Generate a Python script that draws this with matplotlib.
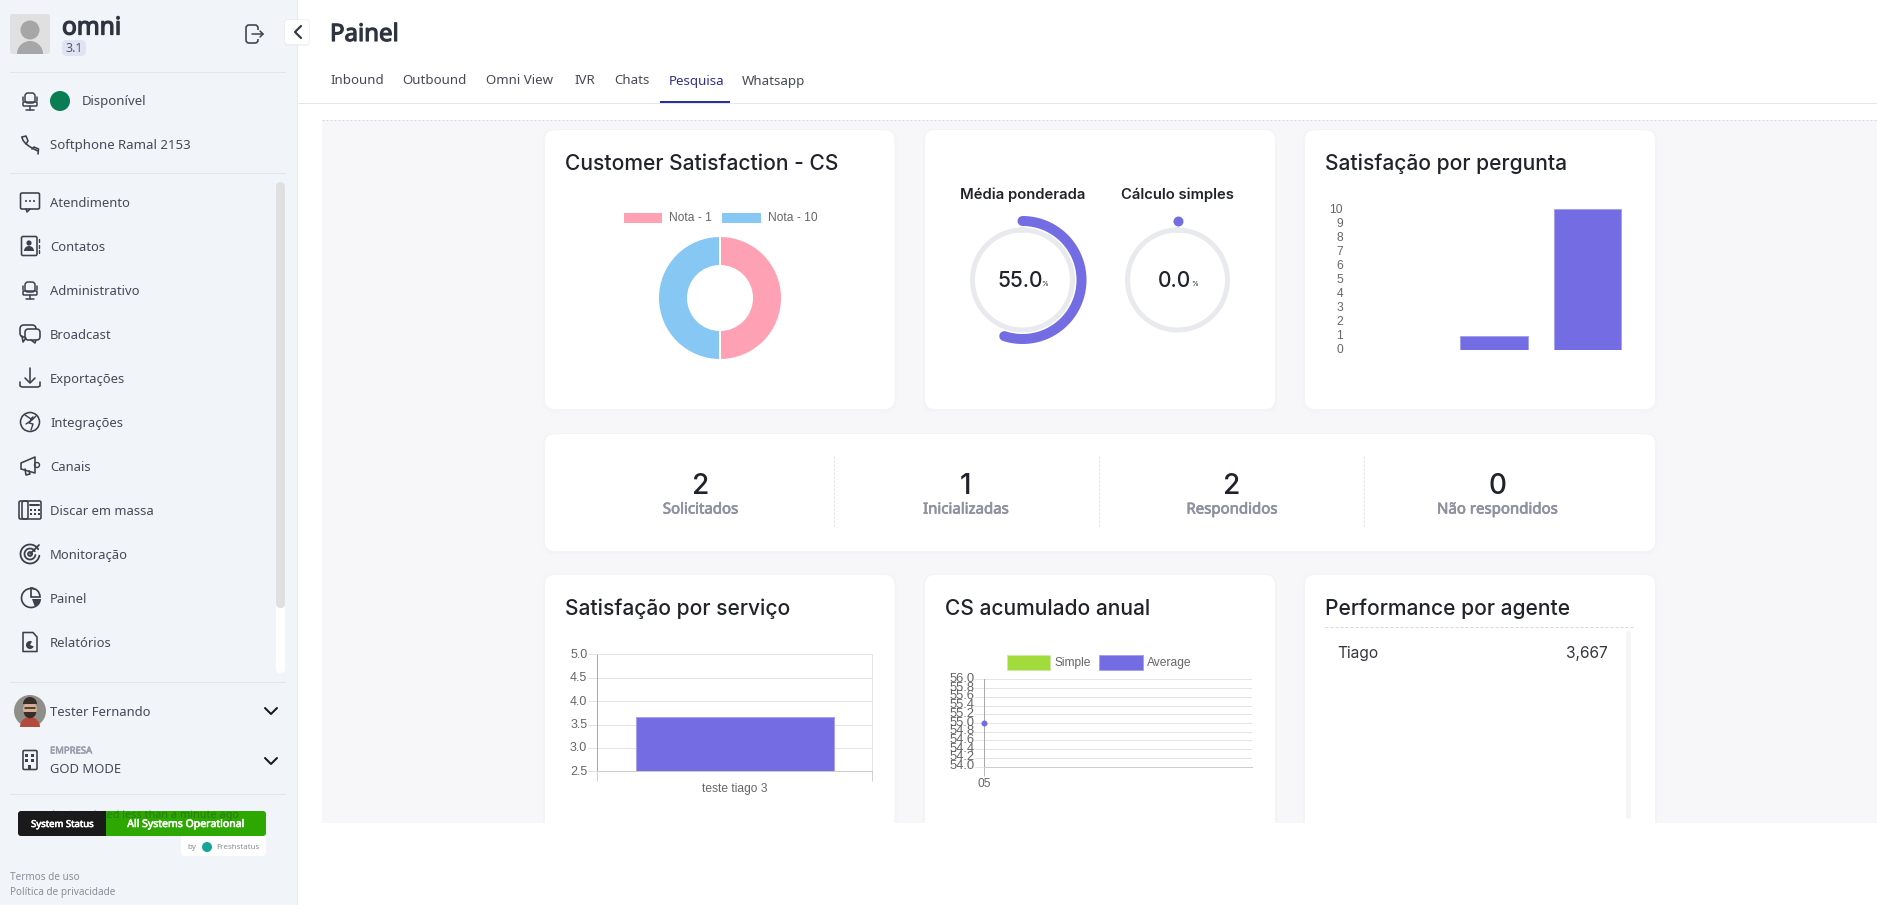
import numpy as np
import matplotlib
matplotlib.use('Agg')
import matplotlib.pyplot as plt
import matplotlib.patheffects as pe
from matplotlib.patches import FancyBboxPatch, Circle, Rectangle, Wedge, Polygon
from matplotlib.transforms import ScaledTranslation

W, H = 1877, 905
PURPLE = '#746ce3'
PURPLE_EDGE = '#a5a0f0'
INK = '#20232b'
ICON = '#3b404c'
TICK = '#666666'
TITLE_FONT = 'Inter'
BODY_FONT = 'Noto Sans'
CHART_FONT = 'Liberation Sans'

# chart values
donut_labels = ['Nota - 1', 'Nota - 10']
donut_values = [1, 1]
donut_colors = ['#ffa1b5', '#86c7f3']

gauge_labels = ['Média ponderada', 'Cálculo simples']
gauge_values = [55.0, 0.0]

pergunta_values = [0, 1, 10]
pergunta_ticks = list(range(0, 11))

servico_labels = ['teste tiago 3']
servico_values = [3.667]
servico_ticks = [2.5, 3.0, 3.5, 4.0, 4.5, 5.0]

anual_labels = ['05']
anual_average = [55.0]
anual_ticks = [54.0, 54.2, 54.4, 54.6, 54.8, 55.0, 55.2, 55.4, 55.6, 55.8, 56.0]
anual_legend = ['Simple', 'Average']
anual_colors = ['#a2db3c', PURPLE]

kpi_values = ['2', '1', '2', '0']
kpi_labels = ['Solicitados', 'Inicializadas', 'Respondidos', 'Não respondidos']

agent_names = ['Tiago']
agent_scores = ['3,667']

tabs = ['Inbound', 'Outbound', 'Omni View', 'IVR', 'Chats', 'Pesquisa', 'Whatsapp']
tab_x = [330, 402.5, 486, 574, 614, 669, 742]
menu_items = ['Atendimento', 'Contatos', 'Administrativo', 'Broadcast', 'Exportações',
              'Integrações', 'Canais', 'Discar em massa', 'Monitoração', 'Painel', 'Relatórios']
menu_y = [202, 246, 290, 334, 378, 422, 466, 510, 554, 598, 642]

fig = plt.figure(figsize=(W / 100, H / 100), dpi=100, facecolor='white')
ui = fig.add_axes([0, 0, 1, 1])
ui.set_xlim(0, W)
ui.set_ylim(H, 0)
ui.axis('off')


def px(v):
    return v * 0.72


def rrect(x0, y0, x1, y1, r, fc, ec='none', lw=0, z=2, alpha=None):
    p = FancyBboxPatch((x0 + r, y0 + r), x1 - x0 - 2 * r, y1 - y0 - 2 * r,
                       boxstyle=f'round,pad={r}', fc=fc, ec=ec, lw=px(lw), zorder=z, alpha=alpha)
    ui.add_patch(p)
    return p


def txt(x, y, s, size, color=INK, font=BODY_FONT, weight='normal', ha='left', va='center', z=6, alpha=None, heavy=0):
    t = ui.text(x, y, s, fontsize=px(size), color=color, family=font, weight=weight,
                ha=ha, va=va, zorder=z, alpha=alpha)
    # Noto Sans has no bold here, thicken it with a stroke
    if heavy:
        t.set_path_effects([pe.withStroke(linewidth=px(heavy), foreground=color)])
    return t


def line(xs, ys, color=ICON, lw=1.5, z=5, ls='-', cap='round'):
    ui.plot(xs, ys, color=color, lw=px(lw), zorder=z, ls=ls, solid_capstyle=cap, solid_joinstyle='round')


def axpx(x0, y0, x1, y1, **kw):
    ax = fig.add_axes([x0 / W, 1 - y1 / H, (x1 - x0) / W, (y1 - y0) / H], **kw)
    ax.patch.set_alpha(0)
    ax.set_zorder(3)
    return ax


def lift_labels(labels, n):
    # move tick labels up by n pixels
    for lb in labels:
        lb.set_transform(lb.get_transform() + ScaledTranslation(0, n / 100, fig.dpi_scale_trans))


def card(x0, y0, x1, y1):
    rrect(x0 - 2, y0 - 1, x1 + 2, y1 + 3, 11, '#f4f4f6', z=1.5)
    rrect(x0, y0, x1, y1, 10, 'white', z=2)


# --- icons -----------------------------------------------------------------
def ic_chair(cx, cy):
    rrect(cx - 5, cy - 8, cx + 5, cy + 2, 3, 'none', ICON, 1.5, z=5)
    rrect(cx - 7, cy + 1, cx + 7, cy + 5, 1, 'none', ICON, 1.5, z=5)
    line([cx - 7, cx - 7], [cy - 4, cy], lw=1.5)
    line([cx + 7, cx + 7], [cy - 4, cy], lw=1.5)
    line([cx, cx], [cy + 5, cy + 9])
    line([cx - 4, cx + 4], [cy + 9, cy + 9])


def ic_phone(cx, cy):
    t = np.linspace(0, 1, 20)
    line(cx - 8 + 4 * t + 12 * t ** 2, cy - 8 + 3 * t ** .5 + 11 * t, lw=1.6)
    line([cx - 8, cx - 4, cx - 2, cx - 4], [cy - 8, cy - 9, cy - 4, cy - 1], lw=1.6)
    line([cx + 8, cx + 8.5, cx + 4, cx + 2], [cy + 9, cy + 4, cy + 2, cy + 4], lw=1.6)


def ic_chat(cx, cy):
    rrect(cx - 9.5, cy - 9, cx + 9.5, cy + 7, 1.5, 'none', ICON, 1.6, z=5)
    line([cx - 4, cx - 3, cx], [cy + 7, cy + 10, cy + 7], lw=1.6)
    for dx in (-4, 0, 4):
        ui.add_patch(Circle((cx + dx, cy - 1), 1, fc=ICON, zorder=5))


def ic_contact(cx, cy):
    rrect(cx - 8.5, cy - 9.5, cx + 7, cy + 9.5, 1.5, 'none', ICON, 1.6, z=5)
    ui.add_patch(Circle((cx - 1, cy - 3), 2.6, fc=ICON, zorder=5))
    ui.add_patch(Wedge((cx - 1, cy + 5), 5, 180, 360, fc=ICON, zorder=5))
    line([cx + 9.5, cx + 9.5], [cy - 7, cy - 4], lw=1.4)
    line([cx + 9.5, cx + 9.5], [cy - 1, cy + 2], lw=1.4)
    line([cx + 9.5, cx + 9.5], [cy + 4, cy + 7], lw=1.4)


def ic_broadcast(cx, cy):
    rrect(cx - 10, cy - 9, cx + 6, cy + 3, 4, 'none', ICON, 1.6, z=5)
    rrect(cx - 5, cy - 5, cx + 10, cy + 6, 3.5, '#f1f4f9', ICON, 1.6, z=5)
    line([cx - 8, cx - 7, cx - 4], [cy + 2, cy + 8, cy + 4], lw=1.6)
    line([cx + 1, cx + 5, cx + 6], [cy + 6, cy + 9, cy + 6], lw=1.6)


def ic_download(cx, cy):
    line([cx, cx], [cy - 10, cy + 4], lw=1.6)
    line([cx - 5, cx, cx + 5], [cy, cy + 5, cy], lw=1.6)
    line([cx - 10, cx - 10, cx - 8, cx + 8, cx + 10, cx + 10], [cy + 4, cy + 8, cy + 9, cy + 9, cy + 8, cy + 4], lw=1.6)


def ic_globe(cx, cy):
    ui.add_patch(Circle((cx, cy), 9.5, fc='none', ec=ICON, lw=px(1.6), zorder=5))
    line([cx - 5, cx + 1, cx + 3, cx - 1, cx + 3, cx + 1], [cy - 7, cy - 3, cy - 5, cy + 1, cy + 2, cy + 8], lw=1.4)
    line([cx + 6, cx + 2, cx - 4], [cy - 6, cy - 2, cy + 2], lw=1.4)


def ic_megaphone(cx, cy):
    ui.add_patch(Polygon([[cx - 9, cy - 3], [cx + 5, cy - 9], [cx + 5, cy + 7], [cx - 9, cy + 3]],
                         fc='none', ec=ICON, lw=px(1.6), zorder=5, joinstyle='round'))
    ui.add_patch(Circle((cx + 7, cy - 1), 2.5, fc='none', ec=ICON, lw=px(1.4), zorder=5))
    line([cx - 5, cx - 4, cx, cx - 1], [cy + 3, cy + 9, cy + 8, cy + 5], lw=1.6)


def ic_office_phone(cx, cy):
    rrect(cx - 11, cy - 9, cx + 11, cy + 9, 1.5, 'none', ICON, 1.6, z=5)
    rrect(cx - 8, cy - 9, cx - 2, cy + 9, 2, 'none', ICON, 1.6, z=5)
    line([cx, cx + 9], [cy - 5, cy - 5], lw=2)
    for dx in (1, 5, 9):
        for dy in (0, 4):
            ui.add_patch(Rectangle((cx + dx - 1, cy + dy - 1), 2, 2, fc=ICON, zorder=5))


def ic_target(cx, cy):
    for r, a1 in ((9.5, 320), (5.5, 320), (2, 360)):
        t = np.radians(np.linspace(0, a1, 40) + 10 * (a1 != 360))
        line(cx + r * np.cos(t), cy + r * np.sin(t), lw=1.8)
    line([cx, cx + 9], [cy, cy - 9], lw=1.8)


def ic_pie(cx, cy):
    t = np.radians(np.linspace(70, 290, 40))
    line(cx + 1 + 9.5 * np.cos(t), cy + 9.5 * np.sin(t), lw=1.7)
    ui.add_patch(Wedge((cx + 1, cy - 1), 9, 270, 360, fc='none', ec=ICON, lw=px(1.7), zorder=5))
    ui.add_patch(Wedge((cx + 2, cy + 1), 9, 0, 70, fc=ICON, zorder=5))


def ic_file(cx, cy):
    ui.add_patch(Polygon([[cx - 7, cy - 9.5], [cx + 3, cy - 9.5], [cx + 7, cy - 5], [cx + 7, cy + 9.5], [cx - 7, cy + 9.5]],
                         fc='none', ec=ICON, lw=px(1.6), zorder=5, joinstyle='round'))
    ui.add_patch(Wedge((cx, cy + 3), 4, 20, 300, fc=ICON, zorder=5))


def ic_building(cx, cy):
    rrect(cx - 7, cy - 9.5, cx + 7, cy + 9.5, 1.2, 'none', ICON, 1.6, z=5)
    for dx in (-3, 3):
        for dy in (-5, 0):
            ui.add_patch(Rectangle((cx + dx - 1.5, cy + dy - 1.5), 3, 3, fc=ICON, zorder=5))
    ui.add_patch(Rectangle((cx - 1.5, cy + 5), 3, 4.5, fc=ICON, zorder=5))


menu_icons = [ic_chat, ic_contact, ic_chair, ic_broadcast, ic_download, ic_globe,
              ic_megaphone, ic_office_phone, ic_target, ic_pie, ic_file]

# --- page background -------------------------------------------------------
ui.add_patch(Rectangle((322, 120), W - 322, 703, fc='#f7f7f9', zorder=0))
line([322, W], [120, 120], color='#d6d8dc', lw=1, z=1, ls=(0, (2, 2)))
line([298, W], [103.5, 103.5], color='#e4e5ee', lw=1, z=1)

# sidebar
ui.add_patch(Rectangle((0, 0), 297, H, fc='#f1f4f9', ec='none', zorder=1))
line([297.5, 297.5], [0, H], color='#e6e9ef', lw=1, z=1.2)
for yy in (72, 173, 682, 794):
    line([10, 285], [yy, yy], color='#e2e5ea', lw=1, z=2)

# sidebar header
rrect(10, 14, 50, 54, 3, '#e0e0e0', z=2)
ui.add_patch(Circle((30, 30), 9.5, fc='#a6a6a6', zorder=3))
ui.add_patch(Wedge((30, 54), 13, 180, 360, fc='#a6a6a6', zorder=3))
txt(62, 28, 'omni', 24.5, color='#2e3340', heavy=1.3)
rrect(62, 40, 86, 56, 5, '#dfe3f3', z=2)
txt(74, 49, '3.1', 12.5, color='#555a66', ha='center')

# logout icon + collapse button
rrect(246, 25, 258, 43, 3, 'none', ICON, 1.6, z=5)
ui.add_patch(Rectangle((254, 30), 6, 9, fc='#f1f4f9', zorder=5.1))
line([252, 263], [34, 34], lw=1.5, z=5.2)
line([260, 263, 260], [31, 34, 37], lw=1.5, z=5.2)
rrect(284, 19, 310, 46, 4, '#e9ebef', z=3, alpha=0.6)
rrect(285, 20, 309, 44, 3, 'white', z=3.1)
line([301, 295, 301], [26, 32, 38], color='#333844', lw=2.2, z=5)

# sidebar items
ic_chair(30, 101)
ui.add_patch(Circle((60, 101), 10, fc='#0a7d55', zorder=5))
txt(82, 102, 'Disponível', 13.2, color='#454a56')
ic_phone(30, 145)
txt(50, 146, 'Softphone Ramal 2153', 13.2, color='#454a56')
for name, yy, draw in zip(menu_items, menu_y, menu_icons):
    draw(30, yy)
    txt(50, yy + 1.5, name, 13, color='#454a56')

# sidebar scrollbar
rrect(276, 182, 285, 673, 4.5, 'white', z=2)
rrect(276, 182, 285, 608, 4.5, '#e0e0e0', z=2.1)

# user rows
ui.add_patch(Circle((30, 711), 16, fc='#8f8f8a', zorder=4))
ui.add_patch(Wedge((30, 727), 10, 180, 360, fc='#b34a3b', zorder=4.5))
ui.add_patch(Circle((30, 709), 7, fc='#d8ad92', zorder=5))
ui.add_patch(Wedge((30, 704), 7, 180, 360, fc='#3a2d28', zorder=5.2))
ui.add_patch(Wedge((30, 712), 6.2, 0, 180, fc='#3a2d28', zorder=5.2))
line([25, 35], [708, 708], color='#222222', lw=1.5, z=5.3)
txt(50, 712, 'Tester Fernando', 13, color='#454a56')
line([265, 271, 277], [708, 714, 708], color='#15171c', lw=2, z=5)
ic_building(30, 760)
txt(50, 751, 'EMPRESA', 9.5, color='#9a9eab', heavy=0.6)
txt(50, 769, 'GOD MODE', 13, color='#454a56')
line([265, 271, 277], [758, 764, 758], color='#15171c', lw=2, z=5)

# status badge
rrect(181, 830, 266, 856, 3, 'white', z=2)
rrect(18, 811, 112, 836, 3, '#1a1a1a', z=3)
rrect(100, 811, 266, 836, 3, '#2ca800', z=3)
ui.add_patch(Rectangle((100, 811), 6, 25, fc='#1a1a1a', zorder=3.1))
txt(52, 815, 'Last updated less than a minute ago', 11, color='#1f2430', z=3.5, alpha=0.35)
txt(62.5, 824.5, 'System Status', 9.5, color='white', ha='center', heavy=0.6)
txt(186, 824.5, 'All Systems Operational', 10.5, color='white', ha='center', heavy=0.6)
txt(187, 847.5, 'by', 8, color='#8a8f99')
ui.add_patch(Circle((207, 847), 5, fc='#13a598', zorder=5))
txt(216, 847.5, 'Freshstatus', 8, color='#8a8f99')
txt(10, 877, 'Termos de uso', 10, color='#8a8e96')
txt(10, 892, 'Política de privacidade', 10, color='#8a8e96')

# --- header ----------------------------------------------------------------
txt(330, 35, 'Painel', 24, color='#2e3340', heavy=1.2)
for name, xx in zip(tabs, tab_x):
    col = '#2d2f8f' if name == 'Pesquisa' else '#454a56'
    txt(xx, 81, name, 13.3, color=col)
ui.add_patch(Rectangle((660, 101), 70, 2.2, fc='#2b2f9e', zorder=4))

# --- cards -----------------------------------------------------------------
for x0, x1 in ((545, 894.5), (925, 1275), (1305, 1655)):
    card(x0, 130, x1, 409)
card(545, 434, 1655, 551)
for x0, x1 in ((545, 894.5), (925, 1275), (1305, 1655)):
    card(x0, 575, x1, 860)
ui.add_patch(Rectangle((298, 823), W - 298, 82, fc='white', zorder=2.5))

TITLE = dict(size=21, font=TITLE_FONT, weight='medium', color='#20232b')
txt(565, 164, 'Customer Satisfaction - CS', **TITLE)
txt(1325, 164, 'Satisfação por pergunta', **TITLE)
txt(565, 609, 'Satisfação por serviço', **TITLE)
txt(945, 609, 'CS acumulado anual', **TITLE)
txt(1325, 609, 'Performance por agente', **TITLE)

# donut
ax = axpx(720 - 62, 298 - 62, 720 + 62, 298 + 62)
ax.pie(donut_values, colors=donut_colors, startangle=90, counterclock=False, radius=1,
       wedgeprops=dict(width=1 - 32 / 62, edgecolor='white', linewidth=px(2)))
ax.set_xlim(-1, 1)
ax.set_ylim(-1, 1)
for x0, x1, tx, lab, col in zip((624, 722.5), (662, 761), (669, 768), donut_labels, donut_colors):
    ui.add_patch(Rectangle((x0, 213), x1 - x0, 10, fc=col, zorder=4))
    txt(tx, 217.5, lab, 12, color=TICK, font=CHART_FONT)

# gauges
for cx, lab, val in zip((1022.5, 1177.5), gauge_labels, gauge_values):
    ax = axpx(cx - 70, 280 - 70, cx + 70, 280 + 70, projection='polar')
    ax.set_theta_zero_location('N')
    ax.set_theta_direction(-1)
    ax.set_rlim(0, 70)
    ax.axis('off')
    ax.plot(np.linspace(0, 2 * np.pi, 200), np.full(200, 50), color='#e8eaee', lw=px(5))
    if val > 0:
        th = np.linspace(0, val / 100 * 2 * np.pi, 100)
        ax.plot(th, np.full(100, 59), color=PURPLE, lw=px(10), solid_capstyle='round')
    else:
        ax.plot([0], [59], 'o', color=PURPLE, ms=px(10), mew=0)
    txt(cx, 195, lab, 14.8, font=TITLE_FONT, weight='semibold', ha='center')
    txt(cx - 2.5, 280.5, f'{val:.1f}', 21, font=TITLE_FONT, weight='medium', ha='center')
    txt(cx + (18.5 if val >= 10 else 13.5), 283.5, '%', 7, font=TITLE_FONT)

# satisfacao por pergunta
ax = axpx(1354, 209, 1634, 349.7)
ax.bar(range(len(pergunta_values)), pergunta_values, width=0.72, color=PURPLE, edgecolor=PURPLE_EDGE, linewidth=px(1))
ax.set_xlim(-0.5, 2.5)
ax.set_ylim(0, 10)
ax.set_yticks(pergunta_ticks)
ax.set_xticks([])
ax.tick_params(axis='y', length=0, pad=px(11), labelsize=px(12), labelcolor=TICK)
for s in ax.spines.values():
    s.set_visible(False)
for lb in ax.get_yticklabels():
    lb.set_family(CHART_FONT)
lift_labels(ax.get_yticklabels(), 1)

# satisfacao por servico
ax = axpx(597.3, 654.3, 872.3, 771.3)
ax.bar([0], servico_values, width=0.72, color=PURPLE, edgecolor=PURPLE_EDGE, linewidth=px(1), zorder=3)
ax.set_xlim(-0.5, 0.5)
ax.set_ylim(2.5, 5.0)
ax.set_yticks(servico_ticks)
ax.set_yticklabels([f'{v:.1f}' for v in servico_ticks], family=CHART_FONT)
ax.set_xticks([0])
ax.set_xticklabels(servico_labels, family=CHART_FONT)
ax.set_xticks([-0.5, 0.5], minor=True)
ax.grid(axis='y', color='#e4e4e4', lw=px(1))
ax.tick_params(axis='y', length=px(9), width=px(1), color='#e4e4e4', pad=px(1), labelsize=px(12.5), labelcolor=TICK)
ax.tick_params(axis='x', which='major', length=0, pad=px(12), labelsize=px(12), labelcolor=TICK)
ax.tick_params(axis='x', which='minor', length=px(10), width=px(1), color='#d0d0d0')
for s, c in zip(('left', 'right', 'top', 'bottom'), ('#aaaaaa', '#e4e4e4', '#e4e4e4', '#cccccc')):
    ax.spines[s].set_color(c)
    ax.spines[s].set_linewidth(px(1))
lift_labels(ax.get_yticklabels(), 1)

# CS acumulado anual
ax = axpx(984.3, 679.3, 1252.3, 766.7)
ax.plot([0], anual_average, 'o', color=PURPLE, ms=px(6), mew=0, clip_on=False, zorder=5)
ax.set_xlim(0, 1)
ax.set_ylim(54, 56)
ax.set_yticks(anual_ticks)
ax.set_yticklabels([f'{v:.1f}' for v in anual_ticks], family=CHART_FONT)
ax.set_xticks([0])
ax.set_xticklabels(anual_labels, family=CHART_FONT)
ax.grid(axis='y', color='#e4e4e4', lw=px(1))
ax.tick_params(axis='y', length=px(10), width=px(1), color='#e4e4e4', pad=0, labelsize=px(13), labelcolor=TICK)
ax.tick_params(axis='x', length=px(9), width=px(1), color='#bbbbbb', pad=px(2), labelsize=px(12), labelcolor=TICK)
for s, c, v in zip(('left', 'right', 'top', 'bottom'), ('#aaaaaa', '#e4e4e4', '#e4e4e4', '#cccccc'), (True, False, False, True)):
    ax.spines[s].set_color(c)
    ax.spines[s].set_linewidth(px(1))
    ax.spines[s].set_visible(v)
lift_labels(ax.get_yticklabels(), 2)
for x0, tx, lab, col in zip((1007, 1099.3), (1054.7, 1147.3), anual_legend, anual_colors):
    ui.add_patch(Rectangle((x0, 655.3), 43.3, 15, fc=col, ec='#cfe9a0' if col != PURPLE else PURPLE_EDGE, lw=px(1), zorder=4))
    txt(tx, 662.5, lab, 12, color=TICK, font=CHART_FONT)

# KPI row
for val, lab, cx in zip(kpi_values, kpi_labels, (700.5, 966, 1232, 1497.6)):
    txt(cx, 486, val, 28, font=TITLE_FONT, weight='medium', ha='center')
    txt(cx, 510, lab, 15, color='#8e91a0', ha='center', heavy=0.7)
for xx in (834, 1099, 1364):
    line([xx, xx], [456, 527], color='#dcdee3', lw=1, z=3, ls=(0, (2, 2)))

# performance table
line([1325, 1635], [627, 627], color='#d9dade', lw=1, z=3, ls=(0, (3, 2)))
rrect(1626, 631, 1631, 819, 2.5, '#f5f5f5', z=3)
for name, score in zip(agent_names, agent_scores):
    txt(1337, 653, name, 15.5, color='#33363e', font=TITLE_FONT)
    txt(1608, 653, score, 15.5, color='#33363e', ha='right', font=TITLE_FONT)

fig.savefig('out.png', dpi=100, facecolor='white')
